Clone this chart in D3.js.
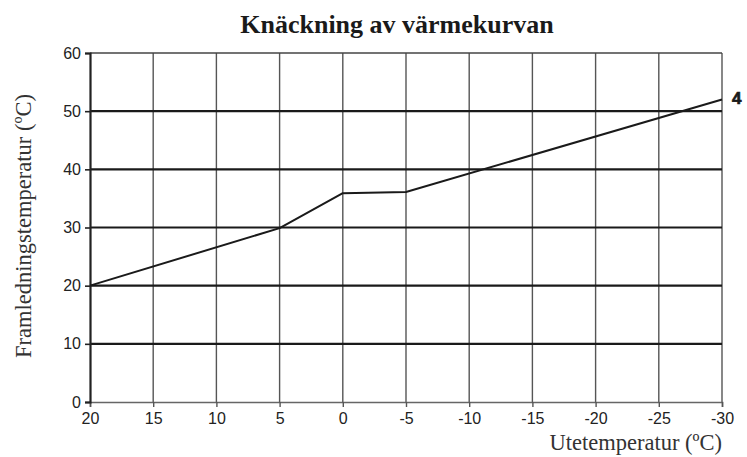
<!DOCTYPE html>
<html>
<head>
<meta charset="utf-8">
<script src="https://cdn.jsdelivr.net/npm/d3@7"></script>
<style>
  body { margin: 0; background: #fff; }
  svg { display: block; }
</style>
</head>
<body>
<svg id="chart" width="747" height="457"></svg>
<script>
// outdoor temperature (x) vs supply temperature (y), curve 4
var outdoor = [20, 5, 0, -5, -30],
    supply = [20, 29.9, 35.9, 36.1, 52],
    xTicks = [20, 15, 10, 5, 0, -5, -10, -15, -20, -25, -30],
    yTicks = [0, 10, 20, 30, 40, 50, 60],
    curveName = '4';

var width = 747, height = 457,
    margin = { top: 53, right: 25, bottom: 55, left: 90 };

var svg = d3.select('#chart');

var x = d3.scaleLinear().domain([20, -30]).range([margin.left, width - margin.right]),
    y = d3.scaleLinear().domain([0, 60]).range([height - margin.bottom, margin.top]);

// plain hyphen for negatives, like the original
var fmt = function(d) { return String(d); };

// vertical grid
svg.append('g').selectAll('line')
  .data(xTicks.slice(1))
  .enter().append('line')
  .attr('x1', function(d) { return x(d); })
  .attr('x2', function(d) { return x(d); })
  .attr('y1', y(0)).attr('y2', y(60))
  .attr('stroke', '#555').attr('stroke-width', 1.4);

// horizontal grid
svg.append('g').selectAll('line')
  .data(yTicks.slice(1))
  .enter().append('line')
  .attr('x1', x(20)).attr('x2', x(-30))
  .attr('y1', function(d) { return y(d); })
  .attr('y2', function(d) { return y(d); })
  .attr('stroke', function(d) { return d === 60 ? '#444' : '#1a1a1a'; })
  .attr('stroke-width', function(d) { return d === 60 ? 1.6 : 2.2; });

// axes
var xAxis = svg.append('g')
  .attr('transform', 'translate(0,' + y(0) + ')')
  .call(d3.axisBottom(x).tickValues(xTicks).tickSize(5).tickPadding(6).tickFormat(fmt));
xAxis.select('.domain').attr('stroke', '#666').attr('stroke-width', 1.6);
xAxis.selectAll('.tick line').attr('stroke', '#555').attr('stroke-width', 1.4);

var yAxis = svg.append('g')
  .attr('transform', 'translate(' + x(20) + ',0)')
  .call(d3.axisLeft(y).tickValues(yTicks).tickSize(5).tickPadding(4).tickFormat(fmt));
yAxis.select('.domain').attr('stroke', '#222').attr('stroke-width', 2.2);
yAxis.selectAll('.tick line').attr('stroke', '#222').attr('stroke-width', 1.6);

svg.selectAll('.tick text')
  .attr('font-family', 'Liberation Sans, Arial, sans-serif')
  .attr('font-size', 16)
  .attr('fill', '#222');

// the curve
var pts = outdoor.map(function(d, i) { return [d, supply[i]]; });
svg.append('path')
  .datum(pts)
  .attr('fill', 'none')
  .attr('stroke', '#1a1a1a')
  .attr('stroke-width', 2)
  .attr('stroke-linejoin', 'round')
  .attr('d', d3.line().x(function(d) { return x(d[0]); }).y(function(d) { return y(d[1]); }));

svg.append('text')
  .attr('x', x(-30) + 10)
  .attr('y', y(supply[supply.length - 1]) + 4)
  .attr('font-family', 'Liberation Sans, Arial, sans-serif')
  .attr('font-weight', 'bold')
  .attr('font-size', 17)
  .attr('fill', '#1a1a1a')
  .attr('stroke', '#1a1a1a')
  .attr('stroke-width', 0.7)
  .text(curveName);

// titles
svg.append('text')
  .attr('x', 397).attr('y', 33)
  .attr('text-anchor', 'middle')
  .attr('font-family', 'Liberation Serif, Times New Roman, serif')
  .attr('font-weight', 'bold')
  .attr('font-size', 26)
  .attr('fill', '#1a1a1a')
  .text('Knäckning av värmekurvan');

svg.append('text')
  .attr('transform', 'translate(31,' + 226 + ') rotate(-90)')
  .attr('text-anchor', 'middle')
  .attr('font-family', 'Liberation Serif, Times New Roman, serif')
  .attr('font-size', 22.5)
  .attr('fill', '#333')
  .text('Framledningstemperatur (ºC)');

svg.append('text')
  .attr('x', x(-30)).attr('y', 450)
  .attr('text-anchor', 'end')
  .attr('font-family', 'Liberation Serif, Times New Roman, serif')
  .attr('font-size', 22.5)
  .attr('fill', '#333')
  .text('Utetemperatur (ºC)');
</script>
</body>
</html>
